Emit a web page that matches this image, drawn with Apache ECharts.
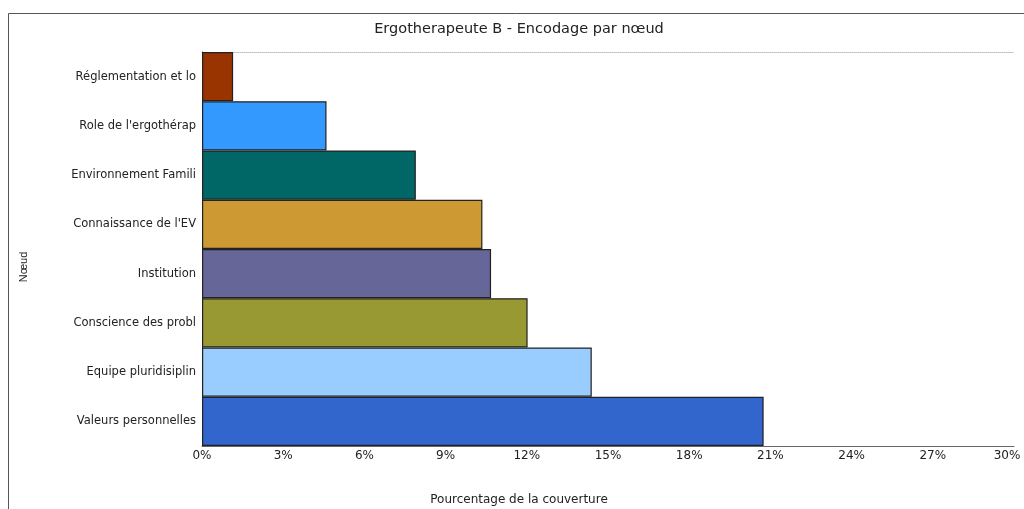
<!DOCTYPE html>
<html>
<head>
<meta charset="utf-8">
<script src="https://cdn.jsdelivr.net/npm/echarts@6/dist/echarts.min.js"></script>
<style>
html,body{margin:0;padding:0;background:#fff;}
#chart{width:1024px;height:509px;}
</style>
</head>
<body>
<div id="chart"></div>
<script>
const categories = [
  "Réglementation et lo",
  "Role de l'ergothérap",
  "Environnement Famili",
  "Connaissance de l'EV",
  "Institution",
  "Conscience des probl",
  "Equipe pluridisiplin",
  "Valeurs personnelles"
];
const values = [1.15, 4.6, 7.9, 10.36, 10.68, 12.03, 14.4, 20.75];
const barColors = ["#993300", "#3399FF", "#006666", "#CC9933", "#666699", "#999933", "#99CCFF", "#3366CC"];
const titleText = "Ergotherapeute B - Encodage par nœud";
const xAxisName = "Pourcentage de la couverture";
const yAxisName = "Nœud";
const xMax = 30;
const xStep = 3;

const FONT = "'DejaVu Sans', Verdana, sans-serif";
const FONT2 = "'Liberation Sans', Arial, sans-serif";
const chart = echarts.init(document.getElementById('chart'), null, {renderer: 'canvas'});
chart.setOption({
  backgroundColor: '#ffffff',
  animation: false,
  title: {
    text: titleText,
    left: 519,
    textAlign: 'center',
    top: 22,
    padding: 0,
    textStyle: {fontFamily: FONT, fontSize: 14.5, fontWeight: 'normal', color: '#222'}
  },
  graphic: [
    {type: 'line', shape: {x1: 8.5, y1: 13.5, x2: 1024, y2: 13.5}, style: {stroke: '#555', lineWidth: 1}},
    {type: 'line', shape: {x1: 8.5, y1: 13.5, x2: 8.5, y2: 509}, style: {stroke: '#555', lineWidth: 1}},
    {type: 'text', x: 519, y: 500, style: {text: xAxisName, font: '12px ' + FONT, fill: '#222', textAlign: 'center', textVerticalAlign: 'middle'}},
    {type: 'text', x: 24, y: 267, rotation: Math.PI / 2, style: {text: yAxisName, font: '11px ' + FONT2, fill: '#222', textAlign: 'center', textVerticalAlign: 'middle'}}
  ],
  grid: {left: 202, right: 10, top: 52, bottom: 63, containLabel: false, outerBoundsMode: 'none'},
  xAxis: [{
    type: 'value',
    position: 'bottom',
    min: 0, max: xMax, interval: xStep,
    axisLine: {show: true, lineStyle: {color: '#666', width: 1}},
    axisTick: {show: false},
    splitLine: {show: false},
    axisLabel: {
      formatter: function (v) { return v === xMax ? '{last|' + v + '%}' : v + '%'; },
      fontFamily: FONT, fontSize: 12, color: '#222', margin: 4,
      rich: {last: {fontFamily: FONT, fontSize: 12, color: '#222', padding: [0, 14, 0, 0]}}
    }
  }, {
    type: 'value',
    position: 'top',
    min: 0, max: xMax, interval: xStep,
    axisLine: {show: true, lineStyle: {color: '#bbb', width: 1, type: [1, 1]}},
    axisTick: {show: false},
    axisLabel: {show: false},
    splitLine: {show: false}
  }],
  yAxis: {
    type: 'category',
    inverse: true,
    data: categories,
    axisLine: {show: true, lineStyle: {color: '#333'}},
    axisTick: {show: false},
    axisLabel: {fontFamily: FONT, fontSize: 11.5, color: '#222', margin: 6}
  },
  series: [{
    type: 'bar',
    xAxisIndex: 0,
    data: values.map((v, i) => ({value: v, itemStyle: {color: barColors[i]}})),
    barCategoryGap: '0%',
    itemStyle: {borderColor: '#222', borderWidth: 1.2}
  }]
});
</script>
</body>
</html>
